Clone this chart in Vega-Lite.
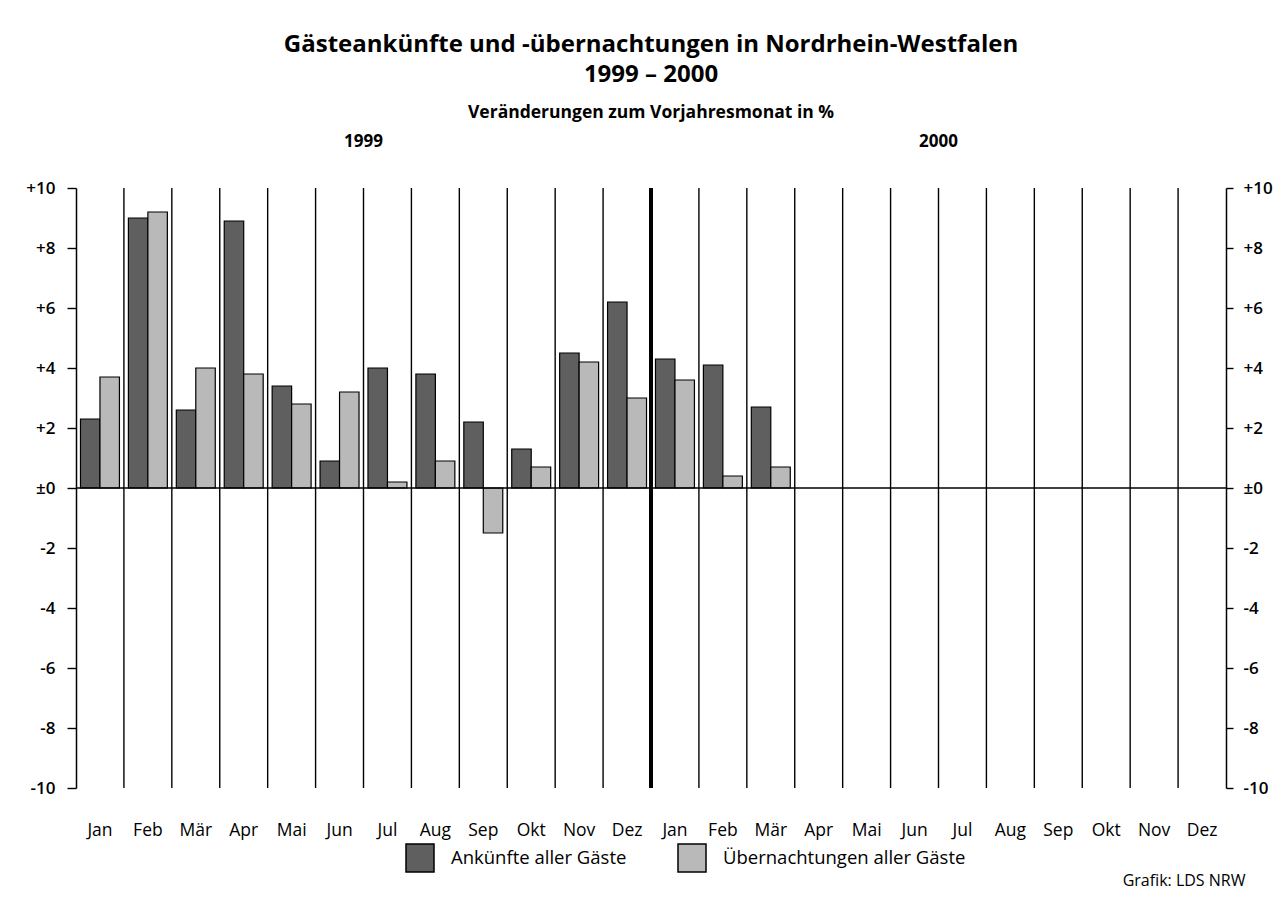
{
  "$schema": "https://vega.github.io/schema/vega-lite/v6.json",
  "autosize": {"type": "none"},
  "width": 1150,
  "height": 600,
  "padding": {"left": 76, "top": 188, "right": 58, "bottom": 112},
  "background": "white",
  "title": {
    "text": ["Gästeankünfte und -übernachtungen in Nordrhein-Westfalen", "1999 – 2000"],
    "subtitle": "Veränderungen zum Vorjahresmonat in %",
    "anchor": "middle",
    "fontSize": 24,
    "fontWeight": "bold",
    "font": "Open Sans",
    "lineHeight": 30,
    "color": "black",
    "subtitleFont": "Open Sans",
    "subtitleFontSize": 17.5,
    "subtitleFontWeight": "bold",
    "subtitleColor": "black",
    "subtitlePadding": 17,
    "offset": 11
  },
  "datasets": {
    "months": [
      {"key": "1999 Jan"}, {"key": "1999 Feb"}, {"key": "1999 Mär"}, {"key": "1999 Apr"},
      {"key": "1999 Mai"}, {"key": "1999 Jun"}, {"key": "1999 Jul"}, {"key": "1999 Aug"},
      {"key": "1999 Sep"}, {"key": "1999 Okt"}, {"key": "1999 Nov"}, {"key": "1999 Dez"},
      {"key": "2000 Jan"}, {"key": "2000 Feb"}, {"key": "2000 Mär"}, {"key": "2000 Apr"},
      {"key": "2000 Mai"}, {"key": "2000 Jun"}, {"key": "2000 Jul"}, {"key": "2000 Aug"},
      {"key": "2000 Sep"}, {"key": "2000 Okt"}, {"key": "2000 Nov"}, {"key": "2000 Dez"}
    ],
    "bars": [
      {"key": "1999 Jan", "series": "Ankünfte aller Gäste", "value": 2.3},
      {"key": "1999 Jan", "series": "Übernachtungen aller Gäste", "value": 3.7},
      {"key": "1999 Feb", "series": "Ankünfte aller Gäste", "value": 9.0},
      {"key": "1999 Feb", "series": "Übernachtungen aller Gäste", "value": 9.2},
      {"key": "1999 Mär", "series": "Ankünfte aller Gäste", "value": 2.6},
      {"key": "1999 Mär", "series": "Übernachtungen aller Gäste", "value": 4.0},
      {"key": "1999 Apr", "series": "Ankünfte aller Gäste", "value": 8.9},
      {"key": "1999 Apr", "series": "Übernachtungen aller Gäste", "value": 3.8},
      {"key": "1999 Mai", "series": "Ankünfte aller Gäste", "value": 3.4},
      {"key": "1999 Mai", "series": "Übernachtungen aller Gäste", "value": 2.8},
      {"key": "1999 Jun", "series": "Ankünfte aller Gäste", "value": 0.9},
      {"key": "1999 Jun", "series": "Übernachtungen aller Gäste", "value": 3.2},
      {"key": "1999 Jul", "series": "Ankünfte aller Gäste", "value": 4.0},
      {"key": "1999 Jul", "series": "Übernachtungen aller Gäste", "value": 0.2},
      {"key": "1999 Aug", "series": "Ankünfte aller Gäste", "value": 3.8},
      {"key": "1999 Aug", "series": "Übernachtungen aller Gäste", "value": 0.9},
      {"key": "1999 Sep", "series": "Ankünfte aller Gäste", "value": 2.2},
      {"key": "1999 Sep", "series": "Übernachtungen aller Gäste", "value": -1.5},
      {"key": "1999 Okt", "series": "Ankünfte aller Gäste", "value": 1.3},
      {"key": "1999 Okt", "series": "Übernachtungen aller Gäste", "value": 0.7},
      {"key": "1999 Nov", "series": "Ankünfte aller Gäste", "value": 4.5},
      {"key": "1999 Nov", "series": "Übernachtungen aller Gäste", "value": 4.2},
      {"key": "1999 Dez", "series": "Ankünfte aller Gäste", "value": 6.2},
      {"key": "1999 Dez", "series": "Übernachtungen aller Gäste", "value": 3.0},
      {"key": "2000 Jan", "series": "Ankünfte aller Gäste", "value": 4.3},
      {"key": "2000 Jan", "series": "Übernachtungen aller Gäste", "value": 3.6},
      {"key": "2000 Feb", "series": "Ankünfte aller Gäste", "value": 4.1},
      {"key": "2000 Feb", "series": "Übernachtungen aller Gäste", "value": 0.4},
      {"key": "2000 Mär", "series": "Ankünfte aller Gäste", "value": 2.7},
      {"key": "2000 Mär", "series": "Übernachtungen aller Gäste", "value": 0.7}
    ],
    "years": [
      {"year": "1999", "key": "1999 Jul"},
      {"year": "2000", "key": "2000 Jul"}
    ]
  },
  "config": {
    "font": "Open Sans",
    "view": {"stroke": null},
    "axis": {"labelColor": "black", "titleColor": "black", "labelFont": "Open Sans", "titleFont": "Open Sans"},
    "legend": {"labelFont": "Open Sans"}
  },
  "resolve": {"axis": {"y": "independent"}},
  "layer": [
    {
      "data": {"name": "months"},
      "transform": [{"filter": "datum.key != '1999 Jan'"}],
      "mark": {"type": "rule", "color": "black"},
      "encoding": {
        "x": {
          "field": "key", "type": "ordinal", "bandPosition": 0,
          "scale": {"type": "band", "domain": ["1999 Jan","1999 Feb","1999 Mär","1999 Apr","1999 Mai","1999 Jun","1999 Jul","1999 Aug","1999 Sep","1999 Okt","1999 Nov","1999 Dez","2000 Jan","2000 Feb","2000 Mär","2000 Apr","2000 Mai","2000 Jun","2000 Jul","2000 Aug","2000 Sep","2000 Okt","2000 Nov","2000 Dez"], "paddingInner": 0, "paddingOuter": 0},
          "axis": {"title": "Grafik: LDS NRW", "domain": false, "ticks": false, "grid": false, "labelExpr": "split(datum.label, ' ')[1]", "labelAngle": 0, "labelFontSize": 17.5, "labelPadding": 33, "titleFontSize": 16, "titleFontWeight": "normal", "titleAnchor": "end", "titleAlign": "right", "titleBaseline": "middle", "titleX": 1169, "titleY": 92}
        },
        "y": {"datum": 10, "type": "quantitative", "scale": {"domain": [-10, 10], "nice": false, "zero": false}, "axis": null},
        "y2": {"datum": -10},
        "strokeWidth": {"condition": {"test": "datum.key == '2000 Jan'", "value": 4}, "value": 1.4}
      }
    },
    {
      "data": {"name": "bars"},
      "mark": {"type": "bar", "stroke": "black", "strokeWidth": 1.2},
      "encoding": {
        "x": {
          "field": "key", "type": "ordinal",
          "scale": {"type": "band", "domain": ["1999 Jan","1999 Feb","1999 Mär","1999 Apr","1999 Mai","1999 Jun","1999 Jul","1999 Aug","1999 Sep","1999 Okt","1999 Nov","1999 Dez","2000 Jan","2000 Feb","2000 Mär","2000 Apr","2000 Mai","2000 Jun","2000 Jul","2000 Aug","2000 Sep","2000 Okt","2000 Nov","2000 Dez"], "paddingInner": 0, "paddingOuter": 0},
          "axis": {"title": "Grafik: LDS NRW", "domain": false, "ticks": false, "grid": false, "labelExpr": "split(datum.label, ' ')[1]", "labelAngle": 0, "labelFontSize": 17.5, "labelPadding": 33, "titleFontSize": 16, "titleFontWeight": "normal", "titleAnchor": "end", "titleAlign": "right", "titleBaseline": "middle", "titleX": 1169, "titleY": 92}
        },
        "xOffset": {"field": "series", "type": "nominal", "sort": ["Ankünfte aller Gäste", "Übernachtungen aller Gäste"], "scale": {"paddingInner": 0, "paddingOuter": 0.23}},
        "y": {
          "field": "value", "type": "quantitative",
          "scale": {"domain": [-10, 10], "nice": false, "zero": false},
          "axis": {"title": null, "orient": "left", "values": [-10,-8,-6,-4,-2,0,2,4,6,8,10], "grid": false, "domainColor": "black", "domainWidth": 1.5, "tickColor": "black", "tickWidth": 1.4, "tickSize": 9, "labelFontSize": 17, "labelFontWeight": 600, "labelPadding": 12, "labelExpr": "datum.value > 0 ? '+' + datum.value : (datum.value == 0 ? '±0' : '' + datum.value)"}
        },
        "color": {
          "field": "series", "type": "nominal",
          "scale": {"domain": ["Ankünfte aller Gäste", "Übernachtungen aller Gäste"], "range": ["#5f5f5f", "#b9b9b9"]},
          "legend": {"title": null, "orient": "none", "legendX": 329, "legendY": 655, "direction": "horizontal", "symbolType": "square", "symbolSize": 784, "symbolStrokeColor": "black", "symbolStrokeWidth": 1.5, "symbolOpacity": 1, "labelFontSize": 18.5, "labelColor": "black", "labelOffset": 16, "columnPadding": 48, "labelLimit": 400}
        }
      }
    },
    {
      "data": {"values": [{}]},
      "mark": {"type": "rule", "color": "black", "strokeWidth": 1.5},
      "encoding": {
        "y": {
          "datum": 0, "type": "quantitative",
          "scale": {"domain": [-10, 10], "nice": false, "zero": false},
          "axis": {"title": null, "orient": "right", "values": [-10,-8,-6,-4,-2,0,2,4,6,8,10], "grid": false, "domainColor": "black", "domainWidth": 1.5, "tickColor": "black", "tickWidth": 1.4, "tickSize": 7, "labelFontSize": 17, "labelFontWeight": 600, "labelPadding": 10, "labelExpr": "datum.value > 0 ? '+' + datum.value : (datum.value == 0 ? '±0' : '' + datum.value)"}
        }
      }
    },
    {
      "data": {"name": "years"},
      "mark": {"type": "text", "fontSize": 17, "fontWeight": "bold", "color": "black", "font": "Open Sans", "baseline": "middle"},
      "encoding": {
        "x": {
          "field": "key", "type": "ordinal", "bandPosition": 0,
          "scale": {"type": "band", "domain": ["1999 Jan","1999 Feb","1999 Mär","1999 Apr","1999 Mai","1999 Jun","1999 Jul","1999 Aug","1999 Sep","1999 Okt","1999 Nov","1999 Dez","2000 Jan","2000 Feb","2000 Mär","2000 Apr","2000 Mai","2000 Jun","2000 Jul","2000 Aug","2000 Sep","2000 Okt","2000 Nov","2000 Dez"], "paddingInner": 0, "paddingOuter": 0},
          "axis": {"title": "Grafik: LDS NRW", "domain": false, "ticks": false, "grid": false, "labelExpr": "split(datum.label, ' ')[1]", "labelAngle": 0, "labelFontSize": 17.5, "labelPadding": 33, "titleFontSize": 16, "titleFontWeight": "normal", "titleAnchor": "end", "titleAlign": "right", "titleBaseline": "middle", "titleX": 1169, "titleY": 92}
        },
        "y": {"datum": 11.55, "type": "quantitative", "scale": {"domain": [-10, 10], "nice": false, "zero": false}, "axis": null},
        "text": {"field": "year"}
      }
    }
  ]
}
